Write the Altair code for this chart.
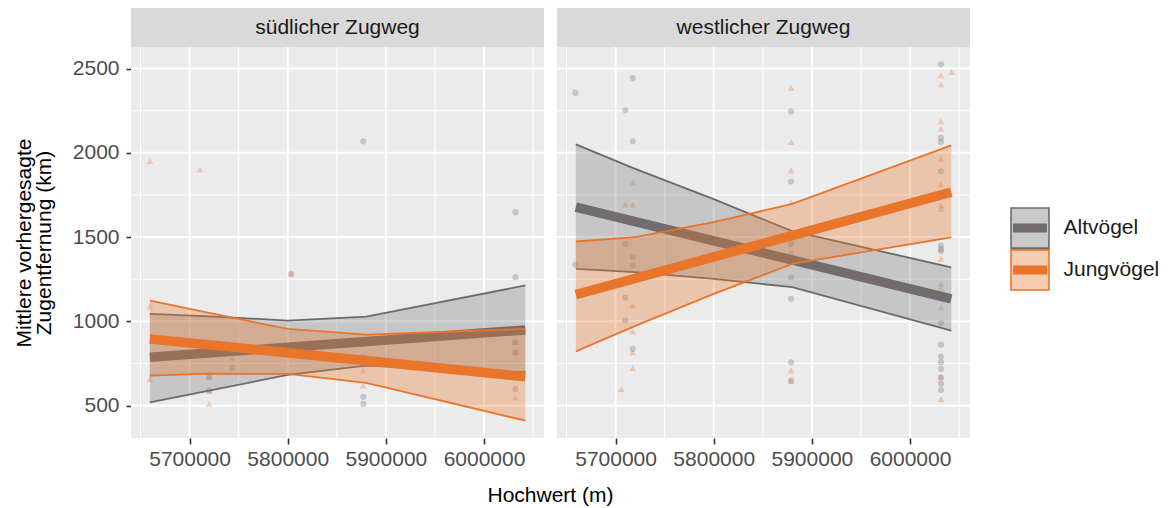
import altair as alt
import pandas as pd

# ---------------- data ----------------
panels = ["südlicher Zugweg", "westlicher Zugweg"]
groups = ["Altvögel", "Jungvögel"]
x_title = ["Hochwert (m)"]
y_title = ["Mittlere vorhergesagte", "Zugentfernung (km)"]

x_major = [5700000, 5800000, 5900000, 6000000]
x_minor = [5650000, 5750000, 5850000, 5950000, 6050000]
y_major = [500, 1000, 1500, 2000, 2500]
y_minor = [750, 1250, 1750, 2250]

# x positions of the predicted bands / fitted lines
fit_x = [5659500, 5720000, 5800000, 5880000, 6042000]
line_x = [5659500, 6042000]

# südlicher Zugweg - confidence bands
s_alt_lo = [520, 589, 682, 737, 698]
s_alt_hi = [1044, 1030, 1005, 1028, 1213]
s_jung_lo = [678, 690, 688, 635, 411]
s_jung_hi = [1123, 1050, 955, 921, 955]
# westlicher Zugweg - confidence bands
w_alt_lo = [1312, 1292, 1252, 1203, 945]
w_alt_hi = [2050, 1905, 1725, 1535, 1321]
w_jung_lo = [822, 973, 1163, 1341, 1499]
w_jung_hi = [1474, 1500, 1589, 1697, 2044]

# fitted lines (start, end)
s_alt_fit = [787, 949]
s_jung_fit = [896, 672]
w_alt_fit = [1678, 1133]
w_jung_fit = [1159, 1767]

# observed points
s_alt_x = [5803500, 5720000, 5720000, 5720000, 5743500, 5877000, 5877000, 5877000,
           5877000, 5877000, 6032000, 6032000, 6032000, 6032000, 6032000, 6032000]
s_alt_y = [1282, 870, 672, 589, 724, 2068, 866, 787, 553, 510, 1648, 1262, 876, 817, 668, 599]
s_jung_x = [5659600, 5710500, 5803500, 5659600, 5659600, 5720000, 5720000, 5720000, 5720000,
            5743500, 5877000, 5877000, 5877000, 6032000, 6032000, 6032000, 6032000]
s_jung_y = [1951, 1900, 1282, 1088, 658, 870, 672, 589, 510, 779, 866, 708, 619, 876, 817, 549, 668]

w_alt_x = [5659000, 5659000, 5717500, 5710000, 5717500, 5710000, 5717500, 5717500, 5710000,
           5710000, 5717500,
           5878800, 5878800, 5878800, 5878800, 5878800, 5878800, 5878800, 5878800,
           6031500, 6031500, 6031500, 6031500, 6031500, 6031500, 6031500, 6031500, 6031500,
           6031500, 6031500, 6031500, 6031500, 6031500, 6031500]
w_alt_y = [2357, 1337, 2444, 2252, 2069, 1460, 1381, 1331, 1140, 1005, 837,
           2246, 1830, 1460, 1401, 1262, 1134, 757, 648,
           2525, 2090, 2064, 1891, 1450, 1430, 1416, 989, 862, 791, 757, 718, 668, 629, 593]
w_jung_x = [5717500, 5710000, 5717500, 5717500, 5717500, 5717500, 5717500, 5705800,
            5878800, 5878800, 5878800, 5878800, 5878800, 5878800,
            6031500, 6031500, 6042300, 6031500, 6031500, 6031500, 6031500, 6031500, 6031500,
            6031500, 6031500, 6031500, 6031500, 6031500, 6031500]
w_jung_y = [1826, 1694, 1694, 1094, 941, 817, 724, 599,
            2386, 2064, 1895, 1707, 708, 648,
            2460, 2406, 2479, 2188, 2143, 1965, 1812, 1688, 1668, 1371, 1223, 1199, 1084, 668, 540]

# ---------------- styling ----------------
W, H = 413, 391
STRIP = 39
FONT = "Liberation Sans"
FS = 21
X_DOMAIN = [5640300, 6061100]
Y_DOMAIN = [308, 2628]

style = {
    "Altvögel": dict(fill="#8C8C8C", fill_op=0.38, edge="#6E6A6A", line="#726C6C",
                     pt="#6E6A6A", shape="circle", size=38, box="#C9C9C9"),
    "Jungvögel": dict(fill="#E8752A", fill_op=0.32, edge="#E8752A", line="#E8752A",
                      pt="#E8752A", shape="triangle-up", size=48, box="#F6CDB0"),
}

xs = alt.Scale(domain=X_DOMAIN, nice=False, zero=False)
ys = alt.Scale(domain=Y_DOMAIN, nice=False, zero=False)


def panel(name, bands, fits, pts, first):
    x_axis = alt.Axis(values=x_major, format="d", grid=False, domain=False,
                      tickColor="#333333", tickSize=6, tickWidth=1.6,
                      labelColor="#4D4D4D", labelFont=FONT, labelFontSize=FS,
                      labelPadding=4, title=None)
    if first:
        y_axis = alt.Axis(values=y_major, format="d", grid=False, domain=False,
                          tickColor="#333333", tickSize=5, tickWidth=1.6,
                          labelColor="#4D4D4D", labelFont=FONT, labelFontSize=FS,
                          labelPadding=7, title=y_title, titleFont=FONT,
                          titleFontSize=FS, titleFontWeight="normal",
                          titleColor="#000000", titlePadding=18, titleLineHeight=20)
    else:
        y_axis = None

    def X(f):
        return alt.X(f, scale=xs, axis=x_axis)

    def Y(f):
        return alt.Y(f, scale=ys, axis=y_axis)

    head = pd.DataFrame({"name": [name]})
    bg = alt.Chart(head).mark_rect(fill="#EBEBEB").encode(
        x=alt.value(0), x2=alt.value(W), y=alt.value(0), y2=alt.value(H))
    strip = alt.Chart(head).mark_rect(fill="#D9D9D9").encode(
        x=alt.value(0), x2=alt.value(W), y=alt.value(-STRIP), y2=alt.value(0))
    strip_txt = alt.Chart(head).mark_text(
        font=FONT, fontSize=FS, color="#1A1A1A", baseline="middle", align="center"
    ).encode(x=alt.value(W / 2), y=alt.value(-STRIP / 2), text="name:N")

    gx_min = alt.Chart(pd.DataFrame({"x": x_minor})).mark_rule(
        color="white", strokeWidth=1).encode(x=X("x:Q"))
    gy_min = alt.Chart(pd.DataFrame({"y": y_minor})).mark_rule(
        color="white", strokeWidth=1).encode(y=Y("y:Q"))
    gx_maj = alt.Chart(pd.DataFrame({"x": x_major})).mark_rule(
        color="white", strokeWidth=2).encode(x=X("x:Q"))
    gy_maj = alt.Chart(pd.DataFrame({"y": y_major})).mark_rule(
        color="white", strokeWidth=2).encode(y=Y("y:Q"))

    layers = [bg, strip, strip_txt, gx_min, gy_min, gx_maj, gy_maj]

    for g in groups:
        st = style[g]
        px, py = pts[g]
        layers.append(
            alt.Chart(pd.DataFrame({"x": px, "y": py})).mark_point(
                filled=True, shape=st["shape"], size=st["size"], color=st["pt"],
                opacity=0.3, strokeWidth=0
            ).encode(x=X("x:Q"), y=Y("y:Q"))
        )

    for g in groups:
        st = style[g]
        lo, hi = bands[g]
        bdf = pd.DataFrame({"x": fit_x, "y": lo, "y2": hi})
        base = alt.Chart(bdf).encode(x=X("x:Q"))
        layers.append(base.mark_area(color=st["fill"], opacity=st["fill_op"]).encode(
            y=Y("y:Q"), y2="y2:Q"))
        layers.append(base.mark_line(color=st["edge"], strokeWidth=1.8).encode(y=Y("y:Q")))
        layers.append(base.mark_line(color=st["edge"], strokeWidth=1.8).encode(y=Y("y2:Q")))
        fdf = pd.DataFrame({"x": line_x, "y": fits[g]})
        layers.append(alt.Chart(fdf).mark_line(color=st["line"], strokeWidth=9.5).encode(
            x=X("x:Q"), y=Y("y:Q")))

    if first:
        layers.append(alt.Chart(pd.DataFrame({"t": x_title})).mark_text(
            font=FONT, fontSize=FS, color="#000000", baseline="middle", align="center"
        ).encode(x=alt.value(W + 6.5), y=alt.value(H + 58), text="t:N"))

    return alt.layer(*layers).properties(width=W, height=H)


left = panel(
    panels[0],
    {"Altvögel": (s_alt_lo, s_alt_hi), "Jungvögel": (s_jung_lo, s_jung_hi)},
    {"Altvögel": s_alt_fit, "Jungvögel": s_jung_fit},
    {"Altvögel": (s_alt_x, s_alt_y), "Jungvögel": (s_jung_x, s_jung_y)},
    True,
)
right = panel(
    panels[1],
    {"Altvögel": (w_alt_lo, w_alt_hi), "Jungvögel": (w_jung_lo, w_jung_hi)},
    {"Altvögel": w_alt_fit, "Jungvögel": w_jung_fit},
    {"Altvögel": (w_alt_x, w_alt_y), "Jungvögel": (w_jung_x, w_jung_y)},
    False,
)

# ---------------- manual legend ----------------
leg_scale = alt.Scale(type="band", domain=groups, range=[161, 243],
                      paddingInner=0.04, paddingOuter=0)
leg_layers = []
for g in groups:
    st = style[g]
    ldf = pd.DataFrame({"label": [g]})
    leg_layers.append(alt.Chart(ldf).mark_rect(
        fill=st["box"], stroke=st["edge"], strokeWidth=1.6
    ).encode(x=alt.value(28), x2=alt.value(66), y=alt.Y("label:N", scale=leg_scale, axis=None)))
    leg_layers.append(alt.Chart(ldf).mark_rule(color=st["line"], strokeWidth=9).encode(
        x=alt.value(30), x2=alt.value(64),
        y=alt.Y("label:N", scale=leg_scale, axis=None, bandPosition=0.5)))
    leg_layers.append(alt.Chart(ldf).mark_text(
        font=FONT, fontSize=FS, color="#1A1A1A", align="left", baseline="middle"
    ).encode(x=alt.value(80.5),
             y=alt.Y("label:N", scale=leg_scale, axis=None, bandPosition=0.5),
             text="label:N"))
legend = alt.layer(*leg_layers).properties(width=170, height=H)

chart = alt.hconcat(left, right, legend, spacing=13, bounds="flush").properties(
    padding={"left": 5, "top": 0, "right": 0, "bottom": 0}
).configure(
    font=FONT, background="white",
    view=alt.ViewConfig(stroke="transparent", strokeWidth=0),
)

chart.save("out.html", embed_options={"renderer": "svg", "actions": False})
